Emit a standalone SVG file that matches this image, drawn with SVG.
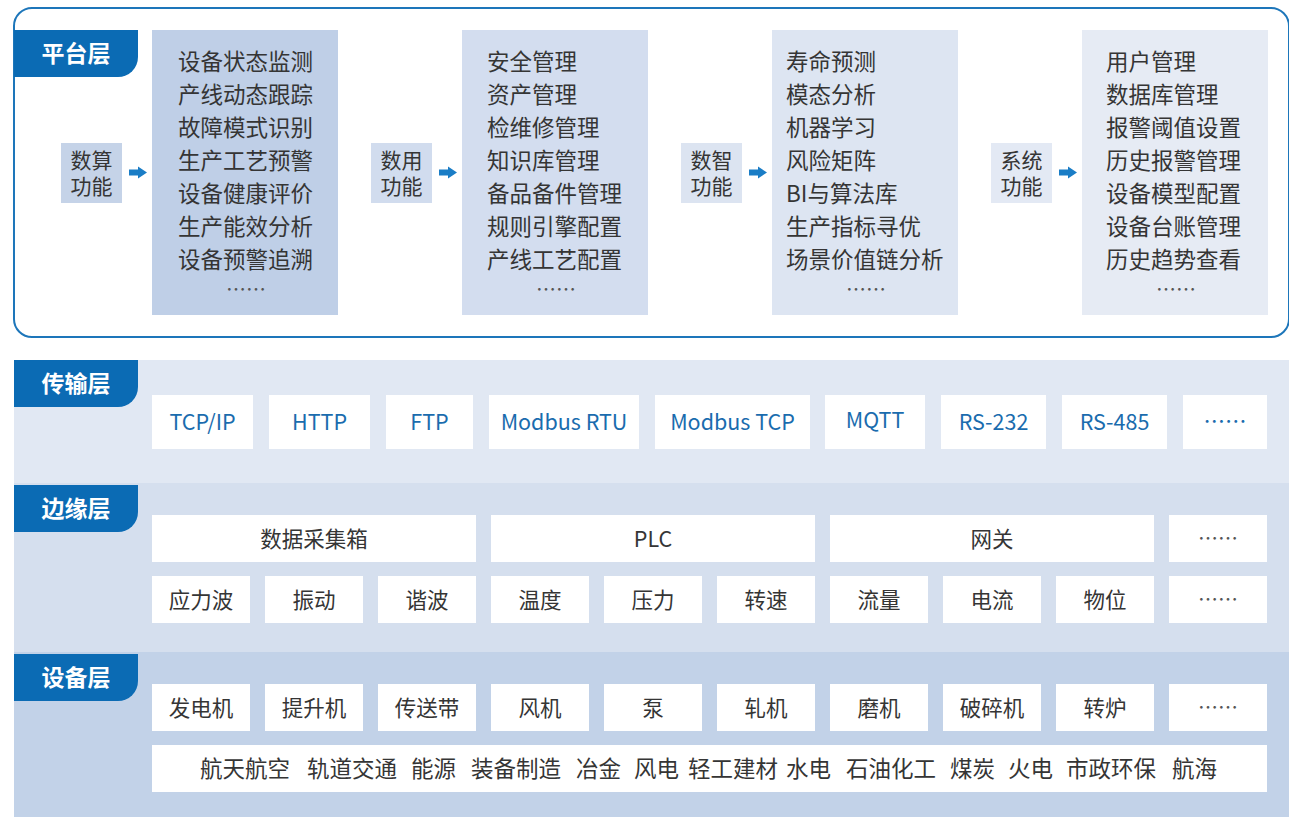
<svg xmlns="http://www.w3.org/2000/svg" width="1289" height="817" viewBox="0 0 1289 817">
<style>
text{font-family:"Noto Sans CJK SC","Noto Sans",sans-serif;dominant-baseline:central;transform:translateY(-2px)}
.tab{fill:#0b6bb4}
.tabt{fill:#fff;font-size:23px;font-weight:bold;text-anchor:middle}
.it{fill:#353535;font-size:22.5px}
.lbl{fill:#353535;font-size:21px;text-anchor:middle}
.box{fill:#fff}
.bt{fill:#353535;font-size:21.5px;text-anchor:middle}
.pt{fill:#1a6cae;font-size:21.5px;text-anchor:middle}
.dots{fill:#555;font-size:20px;text-anchor:middle}
.arr{fill:#1a7dc6}
</style>
<defs>
<path id="tabshape" d="M0,0 H124 V27 A20,20 0 0 1 104,47 H0 Z"/>
</defs>
<rect x="0" y="0" width="1289" height="817" fill="#fff"/>

<!-- Platform layer -->
<g id="platform">
<rect x="14" y="8" width="1275" height="329" rx="18" fill="#fff" stroke="#1d76ba" stroke-width="2"/>
<use href="#tabshape" class="tab" x="14" y="30"/>
<text class="tabt" x="76" y="54">平台层</text>
</g>

<g id="func1">
<rect x="61" y="143" width="61" height="60" fill="#c5d3e8"/>
<text class="lbl"><tspan x="91.5" y="161">数算</tspan><tspan x="91.5" y="187">功能</tspan></text>
</g>
<g id="list1">
<rect x="152" y="30" width="186" height="285" fill="#bfcfe7"/>
<text class="it" x="178" y="62">设备状态监测</text>
<text class="it" x="178" y="95">产线动态跟踪</text>
<text class="it" x="178" y="128">故障模式识别</text>
<text class="it" x="178" y="161">生产工艺预警</text>
<text class="it" x="178" y="194">设备健康评价</text>
<text class="it" x="178" y="227">生产能效分析</text>
<text class="it" x="178" y="260">设备预警追溯</text>
<text class="dots" x="246" y="290">……</text>
</g>

<g id="func2">
<rect x="371" y="143" width="61" height="60" fill="#d1dcee"/>
<text class="lbl"><tspan x="401.5" y="161">数用</tspan><tspan x="401.5" y="187">功能</tspan></text>
</g>
<g id="list2">
<rect x="462" y="30" width="186" height="285" fill="#d3ddef"/>
<text class="it" x="487" y="62">安全管理</text>
<text class="it" x="487" y="95">资产管理</text>
<text class="it" x="487" y="128">检维修管理</text>
<text class="it" x="487" y="161">知识库管理</text>
<text class="it" x="487" y="194">备品备件管理</text>
<text class="it" x="487" y="227">规则引擎配置</text>
<text class="it" x="487" y="260">产线工艺配置</text>
<text class="dots" x="556" y="290">……</text>
</g>

<g id="func3">
<rect x="681" y="143" width="61" height="60" fill="#dce4f1"/>
<text class="lbl"><tspan x="711.5" y="161">数智</tspan><tspan x="711.5" y="187">功能</tspan></text>
</g>
<g id="list3">
<rect x="772" y="30" width="186" height="285" fill="#dde5f2"/>
<text class="it" x="786" y="62">寿命预测</text>
<text class="it" x="786" y="95">模态分析</text>
<text class="it" x="786" y="128">机器学习</text>
<text class="it" x="786" y="161">风险矩阵</text>
<text class="it" x="786" y="194">BI与算法库</text>
<text class="it" x="786" y="227">生产指标寻优</text>
<text class="it" x="786" y="260">场景价值链分析</text>
<text class="dots" x="866" y="290">……</text>
</g>

<g id="func4">
<rect x="991" y="143" width="61" height="60" fill="#e3e9f4"/>
<text class="lbl"><tspan x="1021.5" y="161">系统</tspan><tspan x="1021.5" y="187">功能</tspan></text>
</g>
<g id="list4">
<rect x="1082" y="30" width="186" height="285" fill="#e6ebf4"/>
<text class="it" x="1106" y="62">用户管理</text>
<text class="it" x="1106" y="95">数据库管理</text>
<text class="it" x="1106" y="128">报警阈值设置</text>
<text class="it" x="1106" y="161">历史报警管理</text>
<text class="it" x="1106" y="194">设备模型配置</text>
<text class="it" x="1106" y="227">设备台账管理</text>
<text class="it" x="1106" y="260">历史趋势查看</text>
<text class="dots" x="1176" y="290">……</text>
</g>

<g id="connectors">
<path class="arr" d="M129,169.5 H138 V166.5 L147,172.5 L138,178.5 V175.5 H129 Z"/>
<path class="arr" d="M439,169.5 H448 V166.5 L457,172.5 L448,178.5 V175.5 H439 Z"/>
<path class="arr" d="M749,169.5 H758 V166.5 L767,172.5 L758,178.5 V175.5 H749 Z"/>
<path class="arr" d="M1059,169.5 H1068 V166.5 L1077,172.5 L1068,178.5 V175.5 H1059 Z"/>
</g>

<!-- Transport layer -->
<g id="transport">
<rect x="14" y="360" width="1275" height="123" fill="#e1e8f3"/>
<use href="#tabshape" class="tab" x="14" y="360"/>
<text class="tabt" x="76" y="384">传输层</text>
<rect class="box" x="152" y="395" width="101" height="54"/><text class="pt" x="202.5" y="422">TCP/IP</text>
<rect class="box" x="269" y="395" width="101" height="54"/><text class="pt" x="319.5" y="422">HTTP</text>
<rect class="box" x="386" y="395" width="87" height="54"/><text class="pt" x="429.5" y="422">FTP</text>
<rect class="box" x="489" y="395" width="150" height="54"/><text class="pt" x="564" y="422">Modbus RTU</text>
<rect class="box" x="655" y="395" width="155" height="54"/><text class="pt" x="732.5" y="422">Modbus TCP</text>
<rect class="box" x="825" y="395" width="100" height="54"/><text class="pt" x="875" y="420">MQTT</text>
<rect class="box" x="941" y="395" width="105" height="54"/><text class="pt" x="993.5" y="422">RS-232</text>
<rect class="box" x="1062" y="395" width="105" height="54"/><text class="pt" x="1114.5" y="422">RS-485</text>
<rect class="box" x="1183" y="395" width="84" height="54"/><text class="pt" x="1225" y="421">……</text>
</g>

<!-- Edge layer -->
<g id="edge">
<rect x="14" y="483" width="1275" height="169" fill="#d5dfee"/>
<use href="#tabshape" class="tab" x="14" y="485"/>
<text class="tabt" x="76" y="509">边缘层</text>
<rect class="box" x="152" y="515" width="324" height="47"/><text class="bt" x="314" y="539">数据采集箱</text>
<rect class="box" x="491" y="515" width="324" height="47"/><text class="bt" x="653" y="539">PLC</text>
<rect class="box" x="830" y="515" width="324" height="47"/><text class="bt" x="992" y="539">网关</text>
<rect class="box" x="1169" y="515" width="98" height="47"/><text class="dots" x="1218" y="539">……</text>
<rect class="box" x="152" y="576" width="98" height="47"/><text class="bt" x="201" y="600">应力波</text>
<rect class="box" x="265" y="576" width="98" height="47"/><text class="bt" x="314" y="600">振动</text>
<rect class="box" x="378" y="576" width="98" height="47"/><text class="bt" x="427" y="600">谐波</text>
<rect class="box" x="491" y="576" width="98" height="47"/><text class="bt" x="540" y="600">温度</text>
<rect class="box" x="604" y="576" width="98" height="47"/><text class="bt" x="653" y="600">压力</text>
<rect class="box" x="717" y="576" width="98" height="47"/><text class="bt" x="766" y="600">转速</text>
<rect class="box" x="830" y="576" width="98" height="47"/><text class="bt" x="879" y="600">流量</text>
<rect class="box" x="943" y="576" width="98" height="47"/><text class="bt" x="992" y="600">电流</text>
<rect class="box" x="1056" y="576" width="98" height="47"/><text class="bt" x="1105" y="600">物位</text>
<rect class="box" x="1169" y="576" width="98" height="47"/><text class="dots" x="1218" y="600">……</text>
</g>

<!-- Device layer -->
<g id="device">
<rect x="14" y="652" width="1275" height="165" fill="#c2d2e8"/>
<use href="#tabshape" class="tab" x="14" y="654"/>
<text class="tabt" x="76" y="678">设备层</text>
<rect class="box" x="152" y="684" width="98" height="47"/><text class="bt" x="201" y="708">发电机</text>
<rect class="box" x="265" y="684" width="98" height="47"/><text class="bt" x="314" y="708">提升机</text>
<rect class="box" x="378" y="684" width="98" height="47"/><text class="bt" x="427" y="708">传送带</text>
<rect class="box" x="491" y="684" width="98" height="47"/><text class="bt" x="540" y="708">风机</text>
<rect class="box" x="604" y="684" width="98" height="47"/><text class="bt" x="653" y="708">泵</text>
<rect class="box" x="717" y="684" width="98" height="47"/><text class="bt" x="766" y="708">轧机</text>
<rect class="box" x="830" y="684" width="98" height="47"/><text class="bt" x="879" y="708">磨机</text>
<rect class="box" x="943" y="684" width="98" height="47"/><text class="bt" x="992" y="708">破碎机</text>
<rect class="box" x="1056" y="684" width="98" height="47"/><text class="bt" x="1105" y="708">转炉</text>
<rect class="box" x="1169" y="684" width="98" height="47"/><text class="dots" x="1218" y="708">……</text>
<rect class="box" x="152" y="745" width="1115" height="47"/>
<text class="it" y="769" xml:space="preserve"><tspan x="200">航天航空</tspan> <tspan x="307">轨道交通</tspan> <tspan x="411">能源</tspan> <tspan x="471">装备制造</tspan> <tspan x="576">冶金</tspan> <tspan x="634">风电</tspan> <tspan x="688">轻工建材</tspan> <tspan x="786">水电</tspan> <tspan x="846">石油化工</tspan> <tspan x="950">煤炭</tspan> <tspan x="1008">火电</tspan> <tspan x="1066">市政环保</tspan> <tspan x="1172">航海</tspan></text>
</g>
</svg>
